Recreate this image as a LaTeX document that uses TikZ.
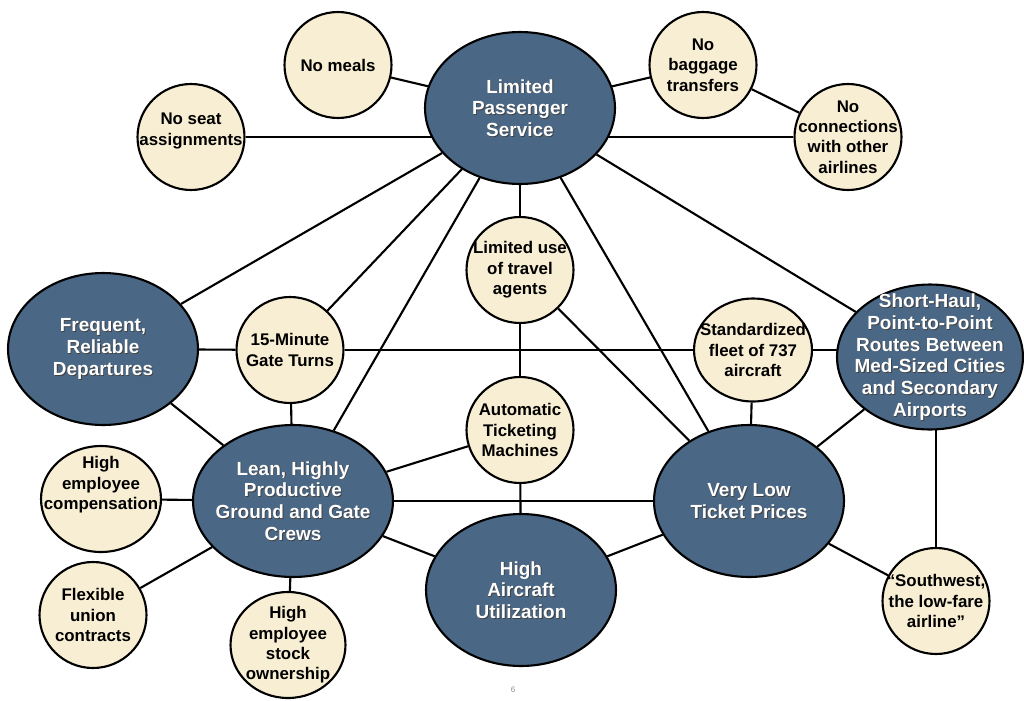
\documentclass[tikz,border=0pt]{standalone}
\usepackage{fontspec}
\setmainfont{Liberation Sans}
\usetikzlibrary{shapes.geometric,backgrounds}
\definecolor{hubblue}{RGB}{74,104,134}
\definecolor{leafcream}{RGB}{248,238,211}
\newcommand{\hubcolor}{hubblue}
\newcommand{\leafcolor}{leafcream}
\newcommand{\thickness}{1.2pt}

\begin{document}
\begin{tikzpicture}[x=0.02cm,y=-0.02cm,
  hubtext/.style={text=white,font=\bfseries\fontsize{10.8}{12.4}\selectfont,align=center,inner sep=0pt},
  hubshadow/.style={hubtext,text=black!75,xshift=0.5pt,yshift=-0.5pt},
  hub/.style={ellipse,draw,line width=\thickness,fill=\hubcolor,inner sep=0pt,
    minimum width=3.8cm,minimum height=3.04cm,
    label={[hubshadow]center:{#1}},label={[hubtext]center:{#1}}},
  leaftext/.style={text=black,font=\bfseries\fontsize{9.6}{11.6}\selectfont,align=center,inner sep=0pt},
  leafshape/.style={ellipse,draw,line width=\thickness,fill=\leafcolor,inner sep=0pt,
    minimum width=2.14cm,minimum height=2.12cm},
  leaf/.style={leafshape,label={[leaftext]center:{#1}}},
  leafup/.style 2 args={leafshape,label={[leaftext,yshift=#1]center:{#2}}},
  link/.style={line width=\thickness}]
\useasboundingbox (0,0) rectangle (1024,700);
% hubs
\node[hub={Limited\\Passenger\\Service}] (lps) at (520,108) {};
\node[hub={Frequent,\\Reliable\\Departures}] (freq) at (103,349) {};
\node[hub={Short-Haul,\\Point-to-Point\\Routes Between\\Med-Sized Cities\\and Secondary\\Airports},minimum width=3.72cm,minimum height=2.9cm] (haul) at (930,357) {};
\node[hub={Lean, Highly\\Productive\\Ground and Gate\\Crews},minimum width=4.0cm] (crews) at (293,501) {};
\node[hub={Very Low\\Ticket Prices}] (prices) at (749,501) {};
\node[hub={High\\Aircraft\\Utilization}] (util) at (521,590) {};
% activities
\node[leaf={No meals}] (meals) at (338,65) {};
\node[leaf={No\\baggage\\transfers}] (bags) at (703,65) {};
\node[leafup={3.4pt}{No seat\\assignments}] (seat) at (191,137) {};
\node[leaf={No\\connections\\with other\\airlines}] (connect) at (848,137) {};
\node[leaf={Limited use\\of travel\\agents}] (agents) at (520,270) {};
\node[leaf={15-Minute\\Gate Turns}] (gate) at (290,350) {};
\node[leaf={Standardized\\fleet of 737\\aircraft},minimum width=2.36cm,minimum height=2.06cm] (fleet) at (753,350) {};
\node[leaf={Automatic\\Ticketing\\Machines}] (ticketing) at (520,430) {};
\node[leafup={8pt}{High\\employee\\compensation},minimum width=2.4cm] (comp) at (101,499) {};
\node[leaf={Flexible\\union\\contracts}] (union) at (93,615) {};
\node[leaf={High\\employee\\stock\\ownership},minimum width=2.3cm] (stock) at (288,645) {};
\node[leaf={``Southwest,\\the low-fare\\airline''}] (southwest) at (936,601) {};
\node[text=black!45,font=\fontsize{4.5}{5}\selectfont] (pagenum) at (513,690) {6};
% links
\begin{scope}[on background layer]
\draw[link] (lps) -- (meals);
\draw[link] (lps) -- (bags);
\draw[link] (bags) -- (connect);
\draw[link] (seat) -- (seat -| lps);
\draw[link] (connect) -- (connect -| lps);
\draw[link] (lps) -- (agents);
\draw[link] (lps) -- (freq);
\draw[link] (lps) -- (gate);
\draw[link] (lps) -- (crews);
\draw[link] (lps) -- (prices);
\draw[link] (lps) -- (haul);
\draw[link] (freq) -- (gate);
\draw[link] (gate) -- (fleet);
\draw[link] (fleet) -- (fleet -| haul);
\draw[link] (freq) -- (crews);
\draw[link] (gate) -- (crews);
\draw[link] (agents) -- (ticketing);
\draw[link] (agents) -- (prices);
\draw[link] (ticketing) -- (crews);
\draw[link] (ticketing) -- (util);
\draw[link] (crews) -- (prices);
\draw[link] (crews) -- (util);
\draw[link] (util) -- (prices);
\draw[link] (comp) -- (crews);
\draw[link] (union) -- (crews);
\draw[link] (stock) -- (crews);
\draw[link] (fleet) -- (prices);
\draw[link] (haul) -- (prices);
\draw[link] (southwest) -- (southwest |- haul);
\draw[link] (prices) -- (southwest);
\end{scope}
\end{tikzpicture}
\end{document}
